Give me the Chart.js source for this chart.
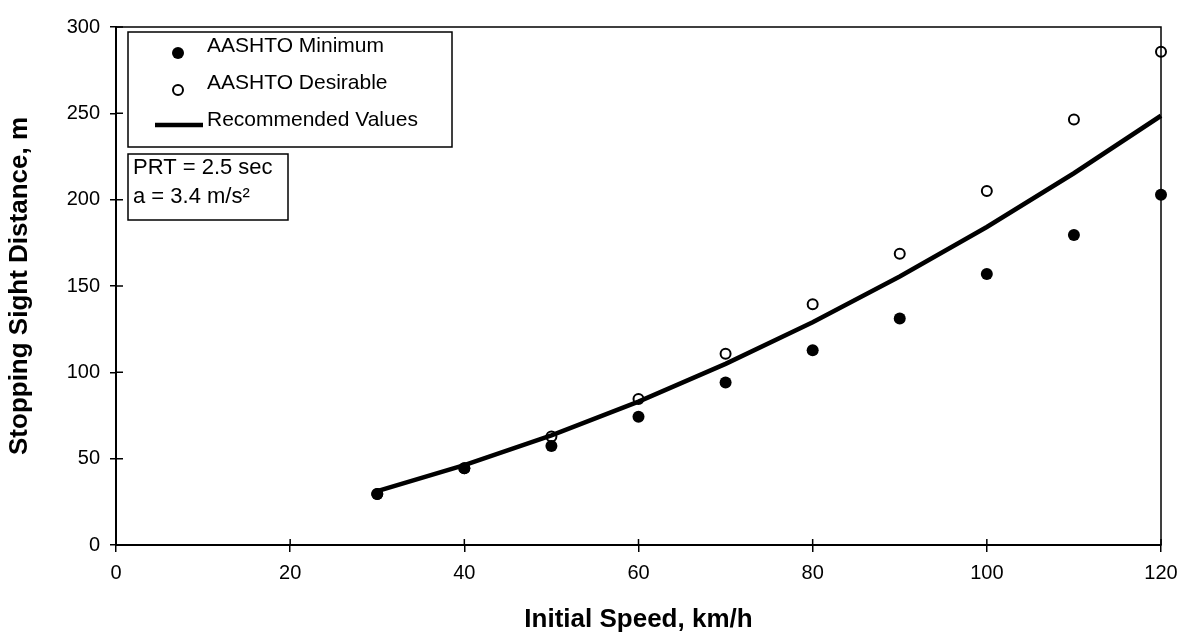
<!DOCTYPE html>
<html>
<head>
<meta charset="utf-8">
<script src="https://cdn.jsdelivr.net/npm/chart.js@4"></script>
<style>
html,body{margin:0;padding:0;background:#fff;}
#wrap{width:1180px;height:632px;}
</style>
</head>
<body>
<div id="wrap"><canvas id="c" width="1180" height="632"></canvas></div>
<script>
// ---- data ----
const speeds = [30, 40, 50, 60, 70, 80, 90, 100, 110, 120];
const aashtoMinimum = [29.6, 44.4, 57.4, 74.3, 94.1, 112.8, 131.2, 157.0, 179.5, 202.9];
const aashtoDesirable = [29.6, 44.4, 62.8, 84.6, 110.8, 139.4, 168.7, 205.0, 246.4, 285.6];
const recommended = [31.2, 46.2, 63.5, 83.0, 104.9, 129.0, 155.5, 184.2, 215.3, 248.6];
const seriesNames = ['AASHTO Minimum', 'AASHTO Desirable', 'Recommended Values'];
const noteLines = ['PRT = 2.5 sec', 'a = 3.4 m/s\u00B2'];
const xTitle = 'Initial Speed, km/h';
const yTitle = 'Stopping Sight Distance, m';

const FONT = "'Liberation Sans', Arial, sans-serif";
const toXY = (xs, ys) => xs.map((x, i) => ({x: x, y: ys[i]}));

const framePlugin = {
  id: 'frame',
  afterDatasetsDraw(chart) {
    const ctx = chart.ctx, a = chart.chartArea;
    const xs = chart.scales.x, ys = chart.scales.y;
    ctx.save();
    ctx.strokeStyle = '#000';
    ctx.lineWidth = 1.5;
    ctx.strokeRect(a.left, a.top, a.right - a.left, a.bottom - a.top);
    ctx.beginPath();
    ys.ticks.forEach(t => { const y = ys.getPixelForValue(t.value); ctx.moveTo(a.left, y); ctx.lineTo(a.left + 7, y); });
    xs.ticks.forEach(t => { const x = xs.getPixelForValue(t.value); ctx.moveTo(x, a.bottom); ctx.lineTo(x, a.bottom - 6); });
    ctx.stroke();
    ctx.restore();
  },
  afterDraw(chart) {
    const ctx = chart.ctx;
    const ds = chart.data.datasets;
    ctx.save();
    // legend box
    ctx.fillStyle = '#fff';
    ctx.fillRect(128, 32, 324, 115);
    ctx.strokeStyle = '#000';
    ctx.lineWidth = 1.5;
    ctx.strokeRect(128, 32, 324, 115);
    ctx.font = '21px ' + FONT;
    ctx.textBaseline = 'middle';
    ctx.textAlign = 'left';
    // filled marker
    ctx.beginPath(); ctx.arc(178, 53, ds[0].pointRadius, 0, Math.PI * 2);
    ctx.fillStyle = ds[0].pointBackgroundColor; ctx.fill();
    ctx.fillStyle = '#000'; ctx.fillText(ds[0].label, 207, 46);
    // open marker
    ctx.beginPath(); ctx.arc(178, 90, ds[1].pointRadius, 0, Math.PI * 2);
    ctx.fillStyle = ds[1].pointBackgroundColor; ctx.fill();
    ctx.lineWidth = ds[1].pointBorderWidth; ctx.strokeStyle = ds[1].pointBorderColor; ctx.stroke();
    ctx.fillStyle = '#000'; ctx.fillText(ds[1].label, 207, 83);
    // line
    ctx.beginPath(); ctx.moveTo(155, 125); ctx.lineTo(203, 125);
    ctx.lineWidth = ds[2].borderWidth; ctx.strokeStyle = ds[2].borderColor; ctx.stroke();
    ctx.fillStyle = '#000'; ctx.fillText(ds[2].label, 207, 120);
    // note box
    ctx.fillStyle = '#fff';
    ctx.fillRect(128, 154, 160, 66);
    ctx.strokeStyle = '#000'; ctx.lineWidth = 1.5;
    ctx.strokeRect(128, 154, 160, 66);
    ctx.fillStyle = '#000';
    ctx.font = '22px ' + FONT;
    ctx.fillText(noteLines[0], 133, 168);
    ctx.fillText(noteLines[1], 133, 197);
    ctx.restore();
  }
};

new Chart(document.getElementById('c'), {
  type: 'scatter',
  data: {
    datasets: [
      {
        label: seriesNames[0],
        data: toXY(speeds, aashtoMinimum),
        showLine: false,
        pointRadius: 6,
        pointBackgroundColor: '#000',
        pointBorderColor: '#000',
        pointBorderWidth: 0,
        order: 0,
        clip: false
      },
      {
        label: seriesNames[1],
        data: toXY(speeds, aashtoDesirable),
        showLine: false,
        pointRadius: 5,
        pointBackgroundColor: '#fff',
        pointBorderColor: '#000',
        pointBorderWidth: 2,
        order: 2,
        clip: false
      },
      {
        label: seriesNames[2],
        data: toXY(speeds, recommended),
        showLine: true,
        tension: 0,
        borderColor: '#000',
        borderWidth: 4.5,
        pointRadius: 0,
        fill: false,
        order: 1,
        clip: false
      }
    ]
  },
  options: {
    responsive: false,
    animation: false,
    events: [],
    layout: { padding: { left: 0, right: 19, top: 27, bottom: 0 } },
    plugins: { legend: { display: false }, tooltip: { enabled: false } },
    scales: {
      x: {
        type: 'linear',
        min: 0, max: 120,
        ticks: { stepSize: 20, color: '#000', font: { family: FONT, size: 20 }, padding: 9, maxRotation: 0 },
        grid: { drawOnChartArea: false, color: '#000', lineWidth: 1.5, tickLength: 7 },
        border: { color: '#000', width: 2 },
        title: { display: true, text: xTitle, color: '#000', font: { family: FONT, size: 26, weight: 'bold', lineHeight: 0.9 }, padding: { top: 0, bottom: 0 } },
        afterFit: s => { s.height = 87; s.paddingLeft = 0; s.paddingRight = 0; }
      },
      y: {
        type: 'linear',
        min: 0, max: 300,
        ticks: { stepSize: 50, color: '#000', font: { family: FONT, size: 20 }, padding: 10 },
        grid: { drawOnChartArea: false, color: '#000', lineWidth: 1.5, tickLength: 6 },
        border: { color: '#000', width: 2 },
        title: { display: true, text: yTitle, color: '#000', font: { family: FONT, size: 26, weight: 'bold', lineHeight: 1 }, padding: { top: 7, bottom: 0 } },
        afterFit: s => { s.width = 116; s.paddingTop = 0; s.paddingBottom = 0; }
      }
    }
  },
  plugins: [framePlugin]
});
</script>
</body>
</html>
